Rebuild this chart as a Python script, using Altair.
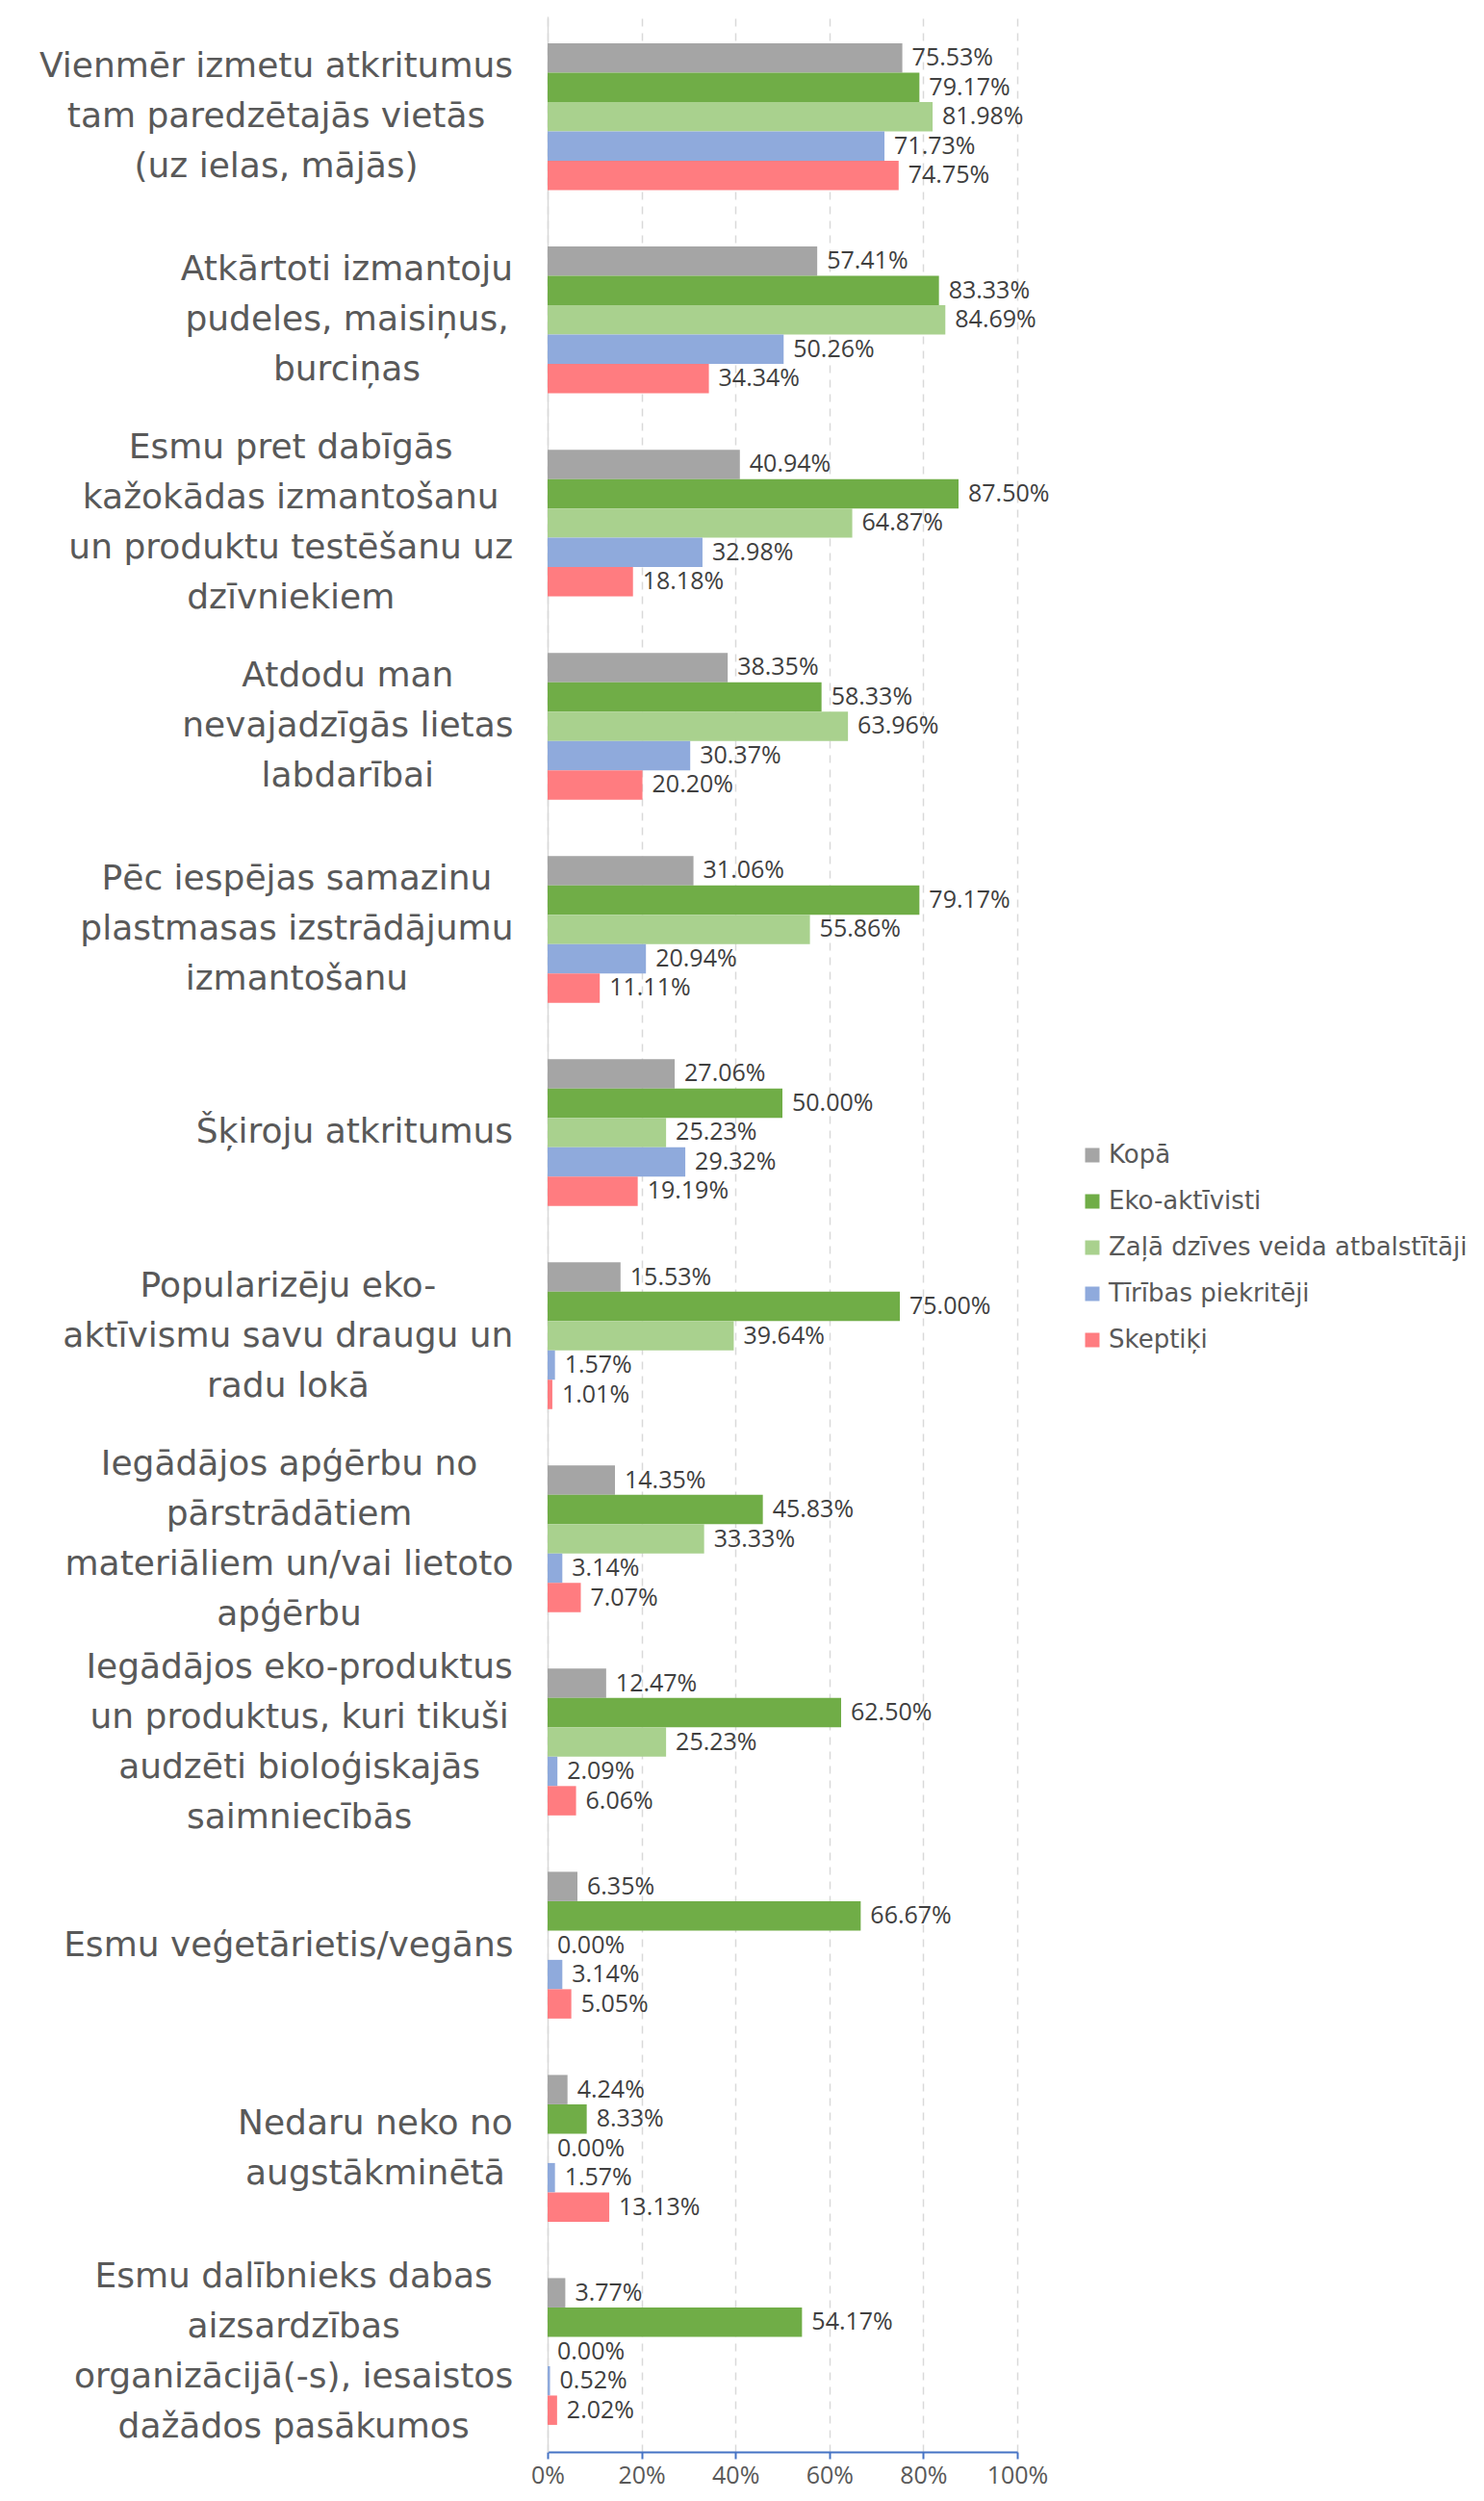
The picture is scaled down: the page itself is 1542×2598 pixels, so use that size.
import unicodedata
import altair as alt
import pandas as pd

# ---------------- data ----------------
category_lines = [
    ["Vienmēr izmetu atkritumus", "tam paredzētajās vietās", "(uz ielas, mājās)"],
    ["Atkārtoti izmantoju", "pudeles, maisiņus,", "burciņas"],
    ["Esmu pret dabīgās", "kažokādas izmantošanu", "un produktu testēšanu uz", "dzīvniekiem"],
    ["Atdodu man", "nevajadzīgās lietas", "labdarībai"],
    ["Pēc iespējas samazinu", "plastmasas izstrādājumu", "izmantošanu"],
    ["Šķiroju atkritumus"],
    ["Popularizēju eko-", "aktīvismu savu draugu un", "radu lokā"],
    ["Iegādājos apģērbu no", "pārstrādātiem", "materiāliem un/vai lietoto", "apģērbu"],
    ["Iegādājos eko-produktus", "un produktus, kuri tikuši", "audzēti bioloģiskajās", "saimniecībās"],
    ["Esmu veģetārietis/vegāns"],
    ["Nedaru neko no", "augstākminētā"],
    ["Esmu dalībnieks dabas", "aizsardzības", "organizācijā(-s), iesaistos", "dažādos pasākumos"],
]
categories = ["|".join(l) for l in category_lines]

series = ["Kopā", "Eko-aktīvisti", "Zaļā dzīves veida atbalstītāji", "Tīrības piekritēji", "Skeptiķi"]
colors = ["#A5A5A5", "#70AD47", "#A9D18E", "#8FAADC", "#FF7C80"]

kopa = [75.53, 57.41, 40.94, 38.35, 31.06, 27.06, 15.53, 14.35, 12.47, 6.35, 4.24, 3.77]
eko = [79.17, 83.33, 87.50, 58.33, 79.17, 50.00, 75.00, 45.83, 62.50, 66.67, 8.33, 54.17]
zala = [81.98, 84.69, 64.87, 63.96, 55.86, 25.23, 39.64, 33.33, 25.23, 0.00, 0.00, 0.00]
tiribas = [71.73, 50.26, 32.98, 30.37, 20.94, 29.32, 1.57, 3.14, 2.09, 3.14, 1.57, 0.52]
skeptiki = [74.75, 34.34, 18.18, 20.20, 11.11, 19.19, 1.01, 7.07, 6.06, 5.05, 13.13, 2.02]

values_by_series = [kopa, eko, zala, tiribas, skeptiki]

rows = []
for ci, cat in enumerate(categories):
    for s, vals in zip(series, values_by_series):
        rows.append({"category": cat, "series": s, "value": vals[ci] / 100.0})
df = pd.DataFrame(rows)

# ---------------- label block layout (approx. DejaVu Sans advance widths) ----------------
W = {
    " ": 0.318, "a": 0.613, "b": 0.635, "c": 0.550, "d": 0.635, "e": 0.615, "f": 0.352,
    "g": 0.635, "h": 0.634, "i": 0.278, "j": 0.278, "k": 0.579, "l": 0.278, "m": 0.974,
    "n": 0.634, "o": 0.612, "p": 0.635, "q": 0.635, "r": 0.411, "s": 0.521, "t": 0.392,
    "u": 0.634, "v": 0.592, "w": 0.818, "x": 0.592, "y": 0.592, "z": 0.525,
    "A": 0.684, "B": 0.686, "C": 0.698, "D": 0.770, "E": 0.632, "F": 0.575, "G": 0.775,
    "H": 0.752, "I": 0.295, "J": 0.295, "K": 0.656, "L": 0.557, "M": 0.863, "N": 0.748,
    "O": 0.787, "P": 0.603, "R": 0.695, "S": 0.635, "T": 0.611, "U": 0.732, "V": 0.684,
    "(": 0.390, ")": 0.390, ",": 0.318, "-": 0.361, "/": 0.337, ".": 0.318,
}
LABEL_SIZE = 36
LABEL_LINE = 52
LABEL_GAP = 36


def text_width(s, size):
    total = 0.0
    for ch in s:
        base = unicodedata.normalize("NFD", ch)[0]
        total += W.get(base, 0.6)
    return total * size


pad_conds = []
off_conds = []
for cat, lines in zip(categories, category_lines):
    block = max(text_width(l, LABEL_SIZE) for l in lines)
    test = f"datum.value === '{cat}'"
    pad_conds.append({"test": test, "value": round(LABEL_GAP + block / 2, 1)})
    off_conds.append({"test": test, "value": -(len(lines) - 1) * LABEL_LINE / 2})

# ---------------- chart ----------------
y_enc = alt.Y(
    "category:N",
    sort=categories,
    scale=alt.Scale(paddingInner=0.2775, paddingOuter=0.133),
    axis=alt.Axis(
        title=None,
        labelExpr="split(datum.label, '|')",
        labelAlign="center",
        labelBaseline="middle",
        labelFont="DejaVu Sans",
        labelFontSize=LABEL_SIZE,
        labelLineHeight=LABEL_LINE,
        labelColor="#595959",
        labelLimit=2000,
        labelOverlap=False,
        labelPadding={"condition": pad_conds, "value": 250},
        labelOffset={"condition": off_conds, "value": 0},
        ticks=False,
        domainColor="#D9D9D9",
        domainWidth=1.5,
    ),
)
x_enc = alt.X(
    "value:Q",
    scale=alt.Scale(domain=[0, 1], nice=False),
    axis=alt.Axis(
        title=None,
        format=".0%",
        values=[0, 0.2, 0.4, 0.6, 0.8, 1.0],
        labelFont="Open Sans",
        labelFontSize=25,
        labelColor="#595959",
        labelFlush=False,
        labelPadding=5,
        domainColor="#4472C4",
        domainWidth=2,
        tickColor="#4472C4",
        tickWidth=2,
        tickSize=7,
        gridColor="#D9D9D9",
        gridDash=[8, 7],
        gridWidth=1.5,
    ),
)
yoff = alt.YOffset("series:N", sort=series, scale=alt.Scale(paddingInner=0, paddingOuter=0))

bars = alt.Chart(df).mark_bar().encode(
    x=x_enc,
    y=y_enc,
    yOffset=yoff,
    color=alt.Color(
        "series:N",
        sort=series,
        scale=alt.Scale(domain=series, range=colors),
        legend=alt.Legend(
            title=None,
            orient="none",
            legendX=553,
            legendY=1170,
            direction="vertical",
            symbolType="square",
            symbolSize=225,
            symbolStrokeWidth=0,
            labelFont="DejaVu Sans",
            labelFontSize=26,
            labelColor="#595959",
            labelLimit=1000,
            labelOffset=4,
            rowPadding=22,
        ),
    ),
)

labels = alt.Chart(df).mark_text(
    align="left", baseline="middle", dx=10, font="Open Sans", fontSize=25, color="#404040"
).encode(
    x=alt.X("value:Q"),
    y=alt.Y("category:N", sort=categories),
    yOffset=alt.YOffset("series:N", sort=series),
    text=alt.Text("value:Q", format=".2%"),
)

chart = (
    alt.layer(bars, labels)
    .properties(
        width=488,
        height=2530,
        padding={"left": 561, "top": 9, "right": 477, "bottom": 39},
        autosize=alt.AutoSizeParams(type="none"),
        background="white",
    )
    .configure_view(stroke=None)
)

chart.save("out.html", embed_options={"renderer": "svg", "actions": False})
